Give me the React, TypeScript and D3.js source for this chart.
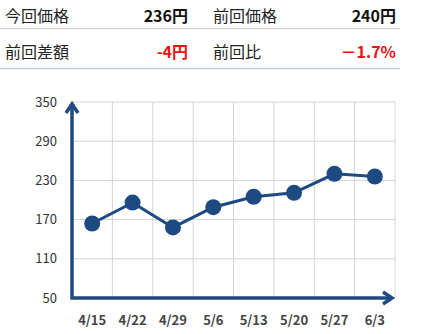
import React from "react";
import * as d3 from "d3";

const dates = ["4/15", "4/22", "4/29", "5/6", "5/13", "5/20", "5/27", "6/3"];
const prices = [164, 196, 158, 189, 205, 211, 240, 236];
const yTicks = [50, 110, 170, 230, 290, 350];
const summaryLabels = ["今回価格", "前回価格", "前回差額", "前回比"];
const summaryValues = ["236円", "240円", "-4円", "－1.7%"];

const NAVY = "#1d4a80";
const FONT = "'Noto Sans CJK JP', 'Noto Sans', sans-serif";

export default function App() {
  const left = 72, right = 395, top = 102, bottom = 298;
  const x = d3.scaleBand<string>().domain(dates).range([left, right]).padding(0);
  const y = d3.scaleLinear().domain([50, 350]).range([bottom, top]);
  const cx = (d: string) => (x(d) as number) + x.bandwidth() / 2;
  const line = d3.line<number>().x((_, i) => cx(dates[i])).y((v) => y(v));

  const rows = [
    { y: 16, line: 28.5, color: "#d0d0d0" },
    { y: 52, line: 68.5, color: "#b9d0ea" },
  ];

  return (
    <svg width={428} height={334} style={{ position: "absolute", left: 0, top: 0 }} fontFamily={FONT}>
      <rect width={428} height={334} fill="#fff" />
      {rows.map((r, ri) => (
        <g key={ri}>
          <text x={5} y={r.y} dy="0.36em" fontSize={16} fill="#222">{summaryLabels[ri * 2]}</text>
          <text x={188} y={r.y} dy="0.36em" fontSize={16} fontWeight="bold" textAnchor="end" fill={ri === 0 ? "#111" : "#ee1111"}>{summaryValues[ri * 2]}</text>
          <text x={213} y={r.y} dy="0.36em" fontSize={16} fill="#222">{summaryLabels[ri * 2 + 1]}</text>
          <text x={396} y={r.y} dy="0.36em" fontSize={16} fontWeight="bold" textAnchor="end" fill={ri === 0 ? "#111" : "#ee1111"}>{summaryValues[ri * 2 + 1]}</text>
          <line x1={0} x2={400} y1={r.line} y2={r.line} stroke={r.color} strokeWidth={1.5} />
        </g>
      ))}
      {/* grid */}
      {yTicks.map((t) => (
        <line key={"h" + t} x1={left} x2={right} y1={y(t)} y2={y(t)} stroke="#d4d4d4" strokeWidth={1} />
      ))}
      {dates.map((d) => (
        <line key={"v" + d} x1={(x(d) as number) + x.bandwidth()} x2={(x(d) as number) + x.bandwidth()} y1={top} y2={bottom} stroke="#d4d4d4" strokeWidth={1} />
      ))}
      {/* y labels */}
      {yTicks.map((t) => (
        <text key={"yl" + t} x={57} y={y(t)} dy="0.35em" textAnchor="end" fontSize={13} fill="#333">{t}</text>
      ))}
      {/* x labels */}
      {dates.map((d) => (
        <text key={"xl" + d} x={cx(d)} y={320} dy="0.35em" textAnchor="middle" fontSize={13} fontWeight="bold" fill="#444">{d}</text>
      ))}
      {/* axes */}
      <polyline points={`${left},${top + 2} ${left},${bottom} ${right - 3},${bottom}`} fill="none" stroke={NAVY} strokeWidth={3.5} />
      <polyline points={`${left - 6},${top + 11} ${left},${top + 2} ${left + 6},${top + 11}`} fill="none" stroke={NAVY} strokeWidth={3.5} strokeLinejoin="miter" />
      <polyline points={`${right - 12},${bottom - 6} ${right - 3},${bottom} ${right - 12},${bottom + 6}`} fill="none" stroke={NAVY} strokeWidth={3.5} strokeLinejoin="miter" />
      {/* data */}
      <path d={line(prices) as string} fill="none" stroke={NAVY} strokeWidth={3} />
      {prices.map((v, i) => (
        <circle key={"c" + i} cx={cx(dates[i])} cy={y(v)} r={8} fill={NAVY} />
      ))}
    </svg>
  );
}
